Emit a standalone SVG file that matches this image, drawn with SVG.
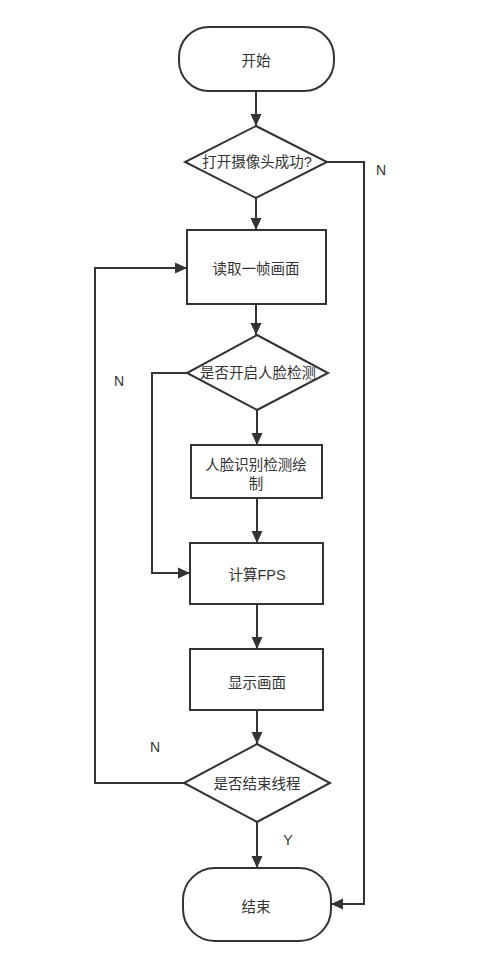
<svg xmlns="http://www.w3.org/2000/svg" width="500" height="969" viewBox="0 0 500 969">
<defs>
<marker id="arr" markerUnits="userSpaceOnUse" markerWidth="13" markerHeight="13" viewBox="0 0 13 13" refX="12" refY="6.5" orient="auto">
<path d="M0,1 L12,6.5 L0,12 Z" fill="#333"/>
</marker>
<style>
.s{fill:#fff;stroke:#333;stroke-width:2}
.t{font-family:"Liberation Sans","Noto Sans CJK SC",sans-serif;font-size:14.5px;fill:#333;text-anchor:middle;dominant-baseline:central}
.c{fill:none;stroke:#333;stroke-width:2;marker-end:url(#arr)}
.l{font-family:"Liberation Sans",sans-serif;font-size:14px;fill:#333;text-anchor:middle;dominant-baseline:central}
</style>
</defs>
<rect width="500" height="969" fill="#fff"/>
<g id="connectors">
<path class="c" d="M256,91 V126"/>
<path class="c" d="M256,198 V230"/>
<path class="c" d="M256,304 V335"/>
<path class="c" d="M257,410 V445"/>
<path class="c" d="M257,498 V543"/>
<path class="c" d="M257,604 V649"/>
<path class="c" d="M257,710 V744"/>
<path class="c" d="M257,822 V868"/>
<path class="c" d="M327,162 H364 V904 H331"/>
<path class="c" d="M187,373 H152 V573 H190"/>
<path class="c" d="M184,783 H95 V268 H187"/>
<text class="l" x="381" y="170">N</text>
<text class="l" x="119" y="381">N</text>
<text class="l" x="155" y="747">N</text>
<text class="l" x="288" y="840">Y</text>
</g>
<g id="start"><rect class="s" x="179" y="27" width="155" height="64" rx="30"/><text class="t" x="256" y="61">开始</text></g>
<g id="d1"><polygon class="s" points="256,126 327,162 256,198 185,162"/><text class="t" x="257" y="162">打开摄像头成功?</text></g>
<g id="read"><rect class="s" x="187" y="230" width="139" height="74"/><text class="t" x="256" y="269">读取一帧画面</text></g>
<g id="d2"><polygon class="s" points="257,335 328,373 257,410 187,373"/><text class="t" x="258" y="373">是否开启人脸检测</text></g>
<g id="face"><rect class="s" x="191" y="445" width="131" height="53"/><text class="t" x="256" y="465">人脸识别检测绘</text><text class="t" x="256" y="484">制</text></g>
<g id="fps"><rect class="s" x="190" y="543" width="133" height="61"/><text class="t" x="257" y="575">计算FPS</text></g>
<g id="show"><rect class="s" x="190" y="649" width="133" height="61"/><text class="t" x="257" y="683">显示画面</text></g>
<g id="d3"><polygon class="s" points="257,744 330,783 257,822 184,783"/><text class="t" x="257" y="784">是否结束线程</text></g>
<g id="end"><rect class="s" x="183" y="868" width="148" height="73" rx="32"/><text class="t" x="256" y="907">结束</text></g>
</svg>
